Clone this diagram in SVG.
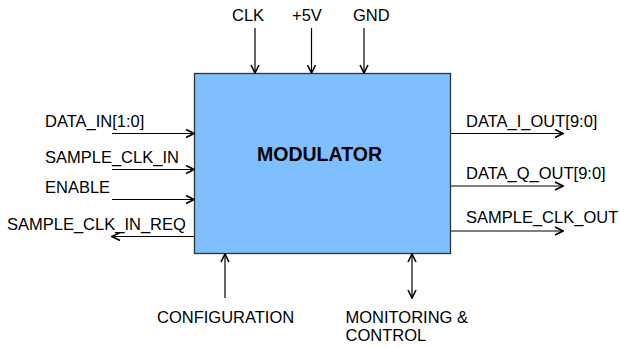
<svg xmlns="http://www.w3.org/2000/svg" width="620" height="347" viewBox="0 0 620 347">
<defs>
<marker id="ah" viewBox="0 0 10 10" refX="9" refY="5" markerWidth="10" markerHeight="10" markerUnits="userSpaceOnUse" orient="auto-start-reverse">
<path d="M1,1 L9,5 L1,9" fill="none" stroke="#000" stroke-width="1.6"/>
</marker>
<style>
text{font-family:"Liberation Sans",Arial,sans-serif;font-size:16.5px;fill:#000}
.c{stroke:#000;stroke-width:1.2;fill:none;marker-end:url(#ah)}
.b{marker-start:url(#ah)}
</style>
</defs>
<rect width="620" height="347" fill="#fff"/>
<g id="modulator">
<rect x="194.5" y="73.5" width="256" height="180" fill="#80bfff" stroke="#333" stroke-width="1.3"/>
<text x="319.5" y="161" text-anchor="middle" font-weight="bold" style="font-size:19.5px">MODULATOR</text>
</g>
<g id="connectors">
<line class="c" x1="255" y1="28" x2="255" y2="73"/>
<line class="c" x1="311.5" y1="28" x2="311.5" y2="73"/>
<line class="c" x1="364" y1="28" x2="364" y2="73"/>
<line class="c" x1="112" y1="133.5" x2="194" y2="133.5"/>
<line class="c" x1="112" y1="169.5" x2="194" y2="169.5"/>
<line class="c" x1="112" y1="199.5" x2="194" y2="199.5"/>
<line class="c" x1="194" y1="236.5" x2="112" y2="236.5"/>
<line class="c" x1="451" y1="133.5" x2="563" y2="133.5"/>
<line class="c" x1="451" y1="186" x2="563" y2="186"/>
<line class="c" x1="451" y1="231" x2="563" y2="231"/>
<line class="c" x1="225" y1="298" x2="225" y2="254"/>
<line class="c b" x1="412" y1="254" x2="412" y2="298"/>
</g>
<g id="labels">
<text x="232" y="21">CLK</text>
<text x="292" y="21">+5V</text>
<text x="353" y="21">GND</text>
<text x="45" y="127">DATA_IN[1:0]</text>
<text x="45" y="163">SAMPLE_CLK_IN</text>
<text x="45" y="193">ENABLE</text>
<text x="7" y="230">SAMPLE_CLK_IN_REQ</text>
<text x="466" y="127">DATA_I_OUT[9:0]</text>
<text x="466" y="179">DATA_Q_OUT[9:0]</text>
<text x="466" y="223">SAMPLE_CLK_OUT</text>
<text x="157" y="323">CONFIGURATION</text>
<text x="345.5" y="323">MONITORING &amp;</text>
<text x="345.5" y="341">CONTROL</text>
</g>
</svg>
